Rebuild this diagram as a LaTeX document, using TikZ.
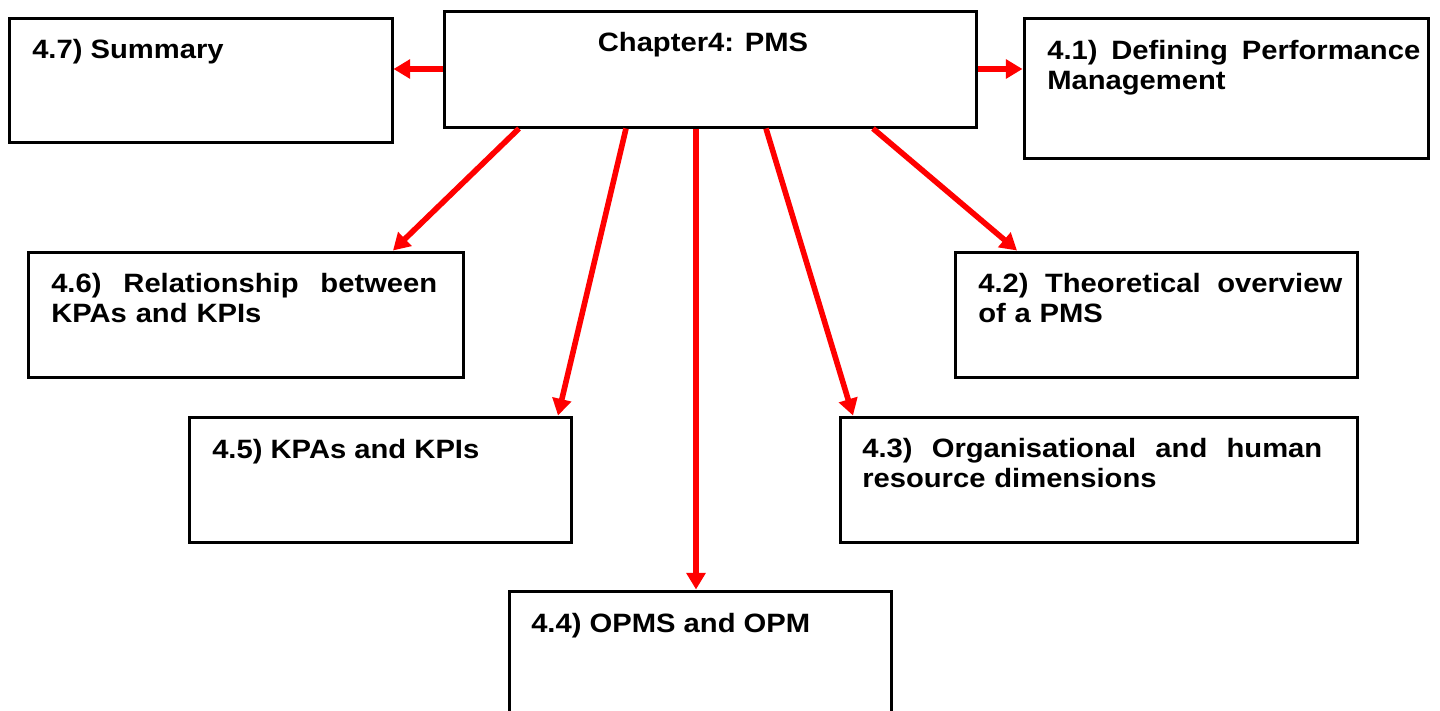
\documentclass[tikz,border=0pt]{standalone}
\usepackage{fontspec}
\setmainfont{Liberation Sans}[FakeStretch=1.1]
\usetikzlibrary{arrows.meta,calc}

\begin{document}
\begin{tikzpicture}[x=0.75pt,y=-0.75pt,
  box/.style 2 args={draw=black, line width=2.25pt, rectangle, inner sep=0pt,
    minimum width=#1*0.75pt, minimum height=#2*0.75pt},
  heading/.style={anchor=base west, inner sep=0pt, align=left,
    font=\bfseries\fontsize{19.9pt}{22.5pt}\selectfont},
  link/.style={draw=red, line width=4.2pt, -{Triangle[length=12.5pt,width=14pt]}}]

\useasboundingbox (0,0) rectangle (1440,711);
\fill[white] (0,0) rectangle (1440,711);

% section boxes
\node[box={532}{116}] (ch)  at (710,69)      {};
\node[box={383}{124}] (s47) at (200.5,80)    {};
\node[box={404}{140}] (s41) at (1226,88)     {};
\node[box={435}{125}] (s46) at (245.5,314.5) {};
\node[box={402}{125}] (s42) at (1156,314.5)  {};
\node[box={382}{125}] (s45) at (380,479.5)   {};
\node[box={517}{125}] (s43) at (1098.5,479.5){};
\node[box={382}{150}] (s44) at (700,666)     {};

% headings
\node[heading, anchor=base] (tch) at (703,51) {Chapter4: PMS};
\node[heading] (t47) at (32,58)  {4.7) Summary};
\node[heading, text width=279.75pt] (t41) at (1047,59)
  {4.1)\hfill Defining\hfill Performance\\Management};
\node[heading, text width=289.5pt] (t46) at (51,292)
  {4.6)\hfill Relationship\hfill between\\KPAs and KPIs};
\node[heading, text width=273pt] (t42) at (978,292)
  {4.2)\hfill Theoretical\hfill overview\\of a PMS};
\node[heading] (t45) at (212,458) {4.5) KPAs and KPIs};
\node[heading, text width=345pt] (t43) at (862,457)
  {4.3)\hfill Organisational\hfill and\hfill human\\resource dimensions};
\node[heading] (t44) at (531,632) {4.4) OPMS and OPM};

% connectors from the chapter box
\draw[link] (ch.west) -- (ch.west -| s47.east);
\draw[link] (ch.east) -- (ch.east -| s41.west);
\draw[link] ($(ch.south)+(-191,0)$) -- ($(s46.north)+(147.5,0)$);
\draw[link] ($(ch.south)+(-84,0)$)  -- ($(s45.north)+(178,0)$);
\draw[link] ($(ch.south)+(-14,0)$)  -- ($(s44.north)+(-4,0)$);
\draw[link] ($(ch.south)+(56,0)$)   -- ($(s43.north)+(-245.5,0)$);
\draw[link] ($(ch.south)+(163,0)$)  -- ($(s42.north)+(-139,0)$);
\end{tikzpicture}
\end{document}
